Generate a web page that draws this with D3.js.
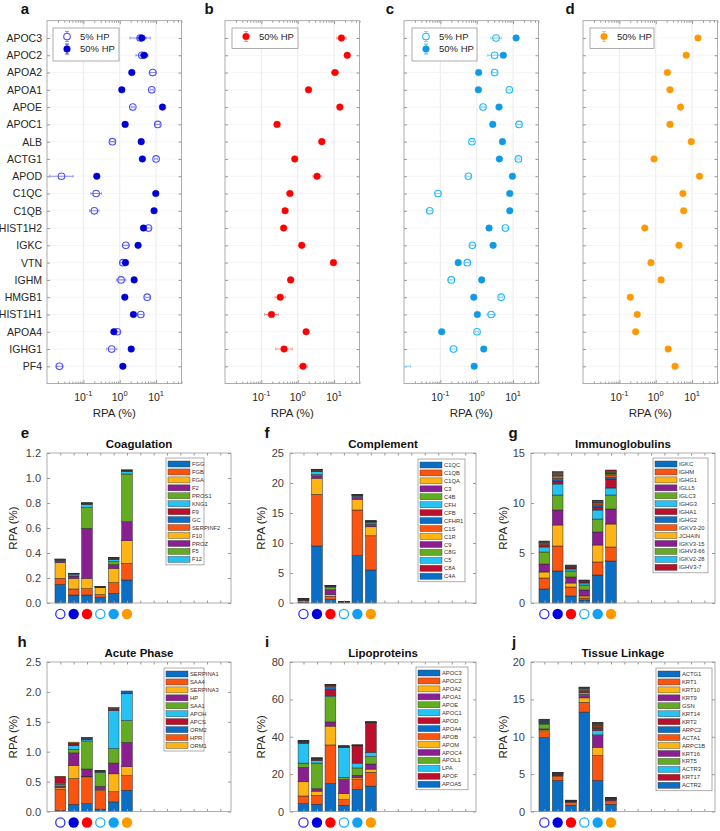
<!DOCTYPE html>
<html><head><meta charset="utf-8">
<script src="https://cdn.jsdelivr.net/npm/d3@7"></script>
<style>body{margin:0;background:#fff} svg{display:block;font-family:"Liberation Sans",Arial,sans-serif}</style>
</head><body><svg id="c" width="720" height="831"></svg>
<script>
// ---------------- DATA ----------------
const proteins = ["APOC3","APOC2","APOA2","APOA1","APOE","APOC1","ALB","ACTG1","APOD","C1QC","C1QB","HIST1H2","IGKC","VTN","IGHM","HMGB1","HIST1H1","APOA4","IGHG1","PF4"];
// RPA (%) values, error bars given as multiplicative spread factors
const a5  = [3.64,4.05,8.1,7.6,2.29,11.1,0.63,10,0.025,0.224,0.2,6.2,1.47,1.22,1.09,5.7,3.8,0.86,0.6,0.022];
const a5err = [1.9,1.45,1.25,1.1,1.1,1.15,1.15,1.1,2.1,1.4,1.35,1.15,1.25,1.2,1.35,1.15,1.2,1.15,1.4,1.25];
const a50 = [4.05,4.7,2.15,1.14,15,1.41,3.9,4.2,0.234,9.8,8.8,4.5,3.2,1.44,2.49,1.38,2.38,0.69,2.07,1.22];
const a50err = [1.3,1.25,1.08,1.08,1.08,1.08,1.08,1.08,1.08,1.08,1.08,1.1,1.08,1.1,1.08,1.08,1.08,1.08,1.08,1.1];
const b50 = [15.9,23,10.6,1.98,14.4,0.27,4.6,0.83,3.4,0.61,0.45,0.41,1.29,9.6,0.64,0.33,0.19,1.7,0.42,1.4];
const b50err = [1.35,1.15,1.25,1.2,1.15,1.2,1.2,1.15,1.3,1.2,1.15,1.15,1.1,1.15,1.2,1.4,1.55,1.1,1.7,1.3];
const c5  = [3.4,3.1,3.1,7.9,1.49,14.6,0.74,14,0.59,0.086,0.051,6.15,0.76,0.55,0.2,4.7,2.5,1.02,0.23,0.006];
const c5err = [1.4,1.55,1.15,1.1,1.15,1.15,1.1,1.1,1.15,1.2,1.15,1.15,1.15,1.2,1.25,1.1,1.3,1.1,1.25,2.5];
const c50 = [12.1,5.4,1.13,1.11,4.1,2.76,5.1,4.2,9.6,8.1,8.1,2.18,2.82,0.31,1.37,0.83,1.04,0.109,1.56,0.85];
const c50err = [1.08,1.08,1.08,1.08,1.08,1.08,1.08,1.08,1.08,1.08,1.08,1.08,1.08,1.15,1.08,1.08,1.08,1.08,1.08,1.08];
const d50 = [14.5,6.9,2.09,2.47,4.8,2.47,9.5,0.9,16,5.6,5.85,0.5,4.36,0.74,1.4,0.2,0.31,0.28,2.2,3.4];
const d50err = [1.05,1.05,1.05,1.05,1.05,1.05,1.05,1.05,1.05,1.05,1.05,1.05,1.05,1.05,1.05,1.05,1.05,1.05,1.05,1.05];
const xMajorTicks = [0.1,1,10];
const xTickExp = ["-1","0","1"];

const barGroups = ["5% HP (a)","50% HP (a)","50% HP (b)","5% HP (c)","50% HP (c)","50% HP (d)"];

const coagNames = ["FGG","FGB","FGA","F2","PROS1","KNG1","F9","GC","SERPINF2","F10","PROZ","F5","F12"];
const coagValues = [
 [0.149,0.048,0.126,0.010,0.007,0.003,0.002,0.002,0.001,0.001,0.001,0.001,0.001],
 [0.064,0.048,0.085,0.019,0.011,0.005,0.002,0.001,0.001,0.001,0.0005,0.0005,0.0005],
 [0.064,0.050,0.083,0.400,0.165,0.028,0.003,0.002,0.002,0.002,0.001,0.001,0.001],
 [0.045,0.022,0.055,0.003,0.002,0.001,0.001,0.001,0.0005,0.0005,0.0005,0.0005,0.0005],
 [0.077,0.086,0.114,0.029,0.025,0.016,0.005,0.003,0.003,0.002,0.001,0.001,0.001],
 [0.184,0.133,0.181,0.152,0.382,0.021,0.004,0.002,0.002,0.001,0.001,0.001,0.001]];

const complNames = ["C1QC","C1QB","C1QA","C3","C4B","CFH","CFB","CFHR1","C1S","C1R","C9","C8G","C5","C8A","C4A"];
const complValues = [
 [0.1,0.3,0.05,0.03,0.02,0.02,0.15,0.02,0.03,0.02,0.01,0.01,0.01,0.01,0.01],
 [9.5,8.6,2.7,0.4,0.2,0.5,0.1,0.1,0.05,0.05,0.03,0.02,0.02,0.02,0.01],
 [0.6,0.5,0.3,0.8,0.45,0.1,0.05,0.03,0.02,0.02,0.01,0.01,0.01,0.005,0.005],
 [0.06,0.05,0.03,0.02,0.01,0.01,0.01,0.01,0.01,0.01,0.005,0.005,0.005,0.005,0.005],
 [7.9,7.6,1.8,0.25,0.2,0.1,0.05,0.05,0.04,0.03,0.03,0.02,0.02,0.01,0.01],
 [5.5,5.7,1.5,0.4,0.25,0.15,0.05,0.04,0.03,0.02,0.02,0.01,0.01,0.01,0.01]];

const immunoNames = ["IGKC","IGHM","IGHG1","IGLL5","IGLC3","IGHG3","IGHA1","IGHG2","IGKV3-20","JCHAIN","IGKV3-15","IGHV3-66","IGKV2-28","IGHV3-7"];
const immunoValues = [
 [1.4,1.1,0.6,0.8,1.2,0.5,0.15,0.1,0.1,0.05,0.05,0.05,0.05,0.05],
 [3.2,2.5,2.1,1.5,1.5,1.1,0.3,0.25,0.2,0.1,0.1,0.1,0.1,0.1],
 [0.7,0.9,0.4,0.6,0.6,0.2,0.1,0.05,0.05,0.05,0.04,0.04,0.04,0.03],
 [0.3,0.2,0.2,0.6,0.5,0.2,0.1,0.05,0.04,0.03,0.02,0.02,0.02,0.02],
 [2.8,1.3,1.7,1.3,1.3,0.9,0.3,0.15,0.15,0.1,0.08,0.08,0.06,0.06],
 [4.2,1.4,2.3,1.5,1.4,0.7,0.9,0.15,0.25,0.1,0.1,0.1,0.1,0.1]];

const acuteNames = ["SERPINA1","SAA4","SERPINA3","HP","SAA1","APOH","APCS","ORM2","HPR","ORM1"];
const acuteValues = [
 [0.015,0.36,0.03,0.02,0.03,0.02,0.09,0.01,0.008,0.005],
 [0.12,0.43,0.22,0.21,0.06,0.06,0.03,0.01,0.01,0.01],
 [0.13,0.45,0.01,0.12,0.47,0.02,0.02,0.01,0.005,0.005],
 [0.04,0.31,0.02,0.05,0.23,0.01,0.01,0.005,0.005,0.005],
 [0.16,0.17,0.30,0.18,0.24,0.64,0.02,0.015,0.01,0.005],
 [0.355,0.245,0.15,0.405,0.365,0.45,0.01,0.025,0.005,0.005]];

const lipoNames = ["APOC3","APOC2","APOA2","APOA1","APOE","APOC1","APOD","APOA4","APOB","APOM","APOC4","APOL1","LPA","APOF","APOA5"];
const lipoValues = [
 [4.2,4.1,7.6,7.7,2.3,10.6,0.3,0.3,0.2,0.1,0.1,0.1,0.1,0.1,0.1],
 [3.9,4.7,2.3,1.3,13.7,1.4,0.3,0.5,0.2,0.1,0.1,0.05,0.05,0.05,0.05],
 [15,20.6,10.1,2.2,13.6,0.5,3.2,1.6,0.4,0.2,0.2,0.1,0.1,0.05,0.05],
 [3.3,3.0,3.2,7.6,1.2,16.0,0.2,0.2,0.1,0.1,0.05,0.05,0.05,0.05,0.05],
 [11.8,5.3,0.9,1.4,3.9,2.6,9.2,0.2,0.1,0.05,0.05,0.03,0.03,0.02,0.02],
 [13.6,7.4,1.7,2.7,4.0,2.3,15.4,0.4,0.2,0.1,0.05,0.05,0.03,0.02,0.02]];

const tissueNames = ["ACTG1","KRT1","KRT10","KRT9","GSN","KRT14","KRT2","ARPC2","ACTA1","ARPC1B","KRT16","KRT5","ACTR3","KRT17","ACTR2"];
const tissueValues = [
 [9.9,0.9,0.15,0.1,0.65,0.1,0.1,0.1,0.05,0.05,0.05,0.05,0.05,0.05,0.05],
 [4.15,0.6,0.1,0.05,0.05,0.05,0.05,0.05,0.03,0.03,0.02,0.02,0.02,0.02,0.01],
 [0.83,0.35,0.08,0.04,0.04,0.03,0.03,0.03,0.02,0.02,0.01,0.01,0.01,0.01,0.01],
 [13.3,1.3,0.6,0.3,0.2,0.2,0.15,0.15,0.1,0.1,0.05,0.05,0.05,0.05,0.05],
 [4.15,3.35,1.1,1.55,0.1,0.6,0.3,0.15,0.15,0.1,0.1,0.1,0.05,0.05,0.05],
 [0.97,0.33,0.15,0.1,0.05,0.05,0.05,0.03,0.03,0.03,0.02,0.02,0.01,0.01,0.01]];

// ---------------- STYLE ----------------
const stackColors = ["#0a6fc4","#fa5510","#fdb414","#8a208f","#63ac22","#25c3f3","#bb0f2c"];
const txt = "#262626", boxC = "#9a9a9a";
const svg = d3.select("#c");

// ---------------- TOP PANELS ----------------
const topLefts = [47,225,404,583], topW = 134.5, topY0 = 20.7, topY1 = 383.6;
const rows = d3.range(1, proteins.length+1);
const minorTicks = [];
[0.01,0.1,1,10].forEach(d => { for (let k=2;k<=9;k++){ const v=d*k; if (v<=50) minorTicks.push(v);} });

function topPanel(idx, letter, series, legend) {
  const L = topLefts[idx];
  const x = d3.scaleLog().domain([0.01,50]).range([L, L+topW]);
  const y = d3.scaleLinear().domain([0,21]).range([topY0, topY1]);
  const g = svg.append("g");
  const clipId = "clip"+idx;
  svg.append("clipPath").attr("id", clipId).append("rect")
    .attr("x", L).attr("y", topY0).attr("width", topW).attr("height", topY1-topY0);
  // grid
  g.append("g").selectAll("line").data(xMajorTicks).join("line")
    .attr("x1", d=>x(d)).attr("x2", d=>x(d)).attr("y1", topY0).attr("y2", topY1)
    .attr("stroke", "#e6e6e6").attr("stroke-width", 0.8);
  g.append("g").selectAll("line").data(rows).join("line")
    .attr("x1", L).attr("x2", L+topW).attr("y1", d=>y(d)).attr("y2", d=>y(d))
    .attr("stroke", "#f2f2f2").attr("stroke-width", 0.8);
  // axes
  const ax = (gen, tx, ty) => g.append("g").attr("transform", `translate(${tx},${ty})`).call(gen)
      .call(s => { s.select(".domain").remove(); s.selectAll(".tick line").attr("stroke", boxC); });
  ax(d3.axisBottom(x).tickValues(xMajorTicks).tickSize(-3.5).tickFormat(""), 0, topY1);
  ax(d3.axisBottom(x).tickValues(minorTicks).tickSize(-2).tickFormat(""), 0, topY1);
  ax(d3.axisTop(x).tickValues(xMajorTicks).tickSize(-3.5).tickFormat(""), 0, topY0);
  ax(d3.axisTop(x).tickValues(minorTicks).tickSize(-2).tickFormat(""), 0, topY0);
  ax(d3.axisRight(y).tickValues(rows).tickSize(-3).tickFormat(""), L+topW, 0);
  const yl = ax(d3.axisLeft(y).tickValues(rows).tickSize(-3).tickPadding(5)
      .tickFormat(d => idx===0 ? proteins[d-1] : ""), L, 0);
  yl.selectAll("text").attr("fill", txt).attr("font-size", 10.5).attr("font-family", "Liberation Sans, Arial");
  g.append("rect").attr("x", L).attr("y", topY0).attr("width", topW).attr("height", topY1-topY0)
    .attr("fill", "none").attr("stroke", boxC).attr("stroke-width", 0.8);
  // tick labels 10^n
  xMajorTicks.forEach((t,i) => {
    const tt = g.append("text").attr("x", x(t)).attr("y", 401).attr("text-anchor", "middle")
      .attr("fill", txt).attr("font-size", 10.5);
    tt.append("tspan").text("10");
    tt.append("tspan").attr("dy", -5).attr("font-size", 7.5).text(xTickExp[i]);
  });
  g.append("text").attr("x", L+topW/2).attr("y", 417).attr("text-anchor", "middle")
    .attr("fill", txt).attr("font-size", 11.5).text("RPA (%)");
  // series
  const pg = g.append("g").attr("clip-path", `url(#${clipId})`);
  series.forEach(s => {
    s.vals.forEach((v,i) => {
      const yy = y(i+1), f = s.err[i];
      pg.append("line").attr("x1", x(v/f)).attr("x2", x(v*f)).attr("y1", yy).attr("y2", yy)
        .attr("stroke", s.errColor).attr("stroke-width", 1.1);
      [v/f, v*f].forEach(e => pg.append("line").attr("x1", x(e)).attr("x2", x(e))
        .attr("y1", yy-1.5).attr("y2", yy+1.5).attr("stroke", s.errColor).attr("stroke-width", 0.8));
    });
  });
  series.forEach(s => {
    s.vals.forEach((v,i) => {
      pg.append("circle").attr("cx", x(v)).attr("cy", y(i+1)).attr("r", 3.3)
        .attr("fill", s.open ? "none" : s.color).attr("stroke", s.color).attr("stroke-width", s.open ? 1.1 : 0.5);
    });
  });
  // legend
  const lg = g.append("g");
  lg.append("rect").attr("x", legend.x).attr("y", 28).attr("width", legend.w)
    .attr("height", 6 + series.length*12.5 + 2).attr("fill", "#fff").attr("stroke", "#9a9a9a").attr("stroke-width", 0.8);
  series.forEach((s,i) => {
    const cy = 36.5 + i*12.5, mx = legend.x + 14;
    lg.append("line").attr("x1", mx).attr("x2", mx).attr("y1", cy-5).attr("y2", cy+5).attr("stroke", s.errColor);
    [cy-5, cy+5].forEach(e => lg.append("line").attr("x1", mx-2).attr("x2", mx+2).attr("y1", e).attr("y2", e).attr("stroke", s.errColor));
    lg.append("circle").attr("cx", mx).attr("cy", cy).attr("r", 3.3)
      .attr("fill", s.open ? "#fff" : s.color).attr("stroke", s.color).attr("stroke-width", s.open ? 1.1 : 0.5);
    lg.append("text").attr("x", legend.x + 27).attr("y", cy).attr("dy", "0.35em")
      .attr("fill", txt).attr("font-size", 9.5).text(s.label);
  });
  svg.append("text").attr("x", legend.letterX).attr("y", 14).attr("text-anchor", "middle")
    .attr("font-weight", "bold").attr("font-size", 15).attr("fill", "#111").text(letter);
}

topPanel(0, "a", [
  {vals:a5, err:a5err, color:"#5050f5", errColor:"#8a8aff", open:true, label:"5% HP"},
  {vals:a50, err:a50err, color:"#0000d4", errColor:"#4848f0", open:false, label:"50% HP"}], {x:53, w:66, letterX:25});
topPanel(1, "b", [
  {vals:b50, err:b50err, color:"#ff0000", errColor:"#ff8a8a", open:false, label:"50% HP"}], {x:232, w:66, letterX:209});
topPanel(2, "c", [
  {vals:c5, err:c5err, color:"#25b8f5", errColor:"#7fd2fa", open:true, label:"5% HP"},
  {vals:c50, err:c50err, color:"#0f9ae6", errColor:"#55bdf0", open:false, label:"50% HP"}], {x:412, w:65, letterX:390});
topPanel(3, "d", [
  {vals:d50, err:d50err, color:"#ff9900", errColor:"#ffc266", open:false, label:"50% HP"}], {x:590, w:64, letterX:570});

// ---------------- BAR PANELS ----------------
const markerStyles = [
  {open:true, color:"#3030ff"}, {open:false, color:"#0000dd"}, {open:false, color:"#ff0000"},
  {open:true, color:"#22aaff"}, {open:false, color:"#14a0f0"}, {open:false, color:"#ff9900"}];

function barPanel(o) {
  const {L, R, T, B, yMax, yTicks, title, letter, letterX, ylabX, names, values, leg} = o;
  const x = d3.scaleLinear().domain([0, 13.8]).range([L, R]);
  const y = d3.scaleLinear().domain([0, yMax]).range([B, T]);
  const g = svg.append("g");
  const table = values.map((arr, i) => { const r = {bar: i+1}; names.forEach((n,k) => r[n] = arr[k]); return r; });
  const series = d3.stack().keys(names)(table);
  const bw = x(0.8) - x(0);
  g.append("g").selectAll("g").data(series).join("g")
    .attr("fill", (d,k) => stackColors[k % stackColors.length])
    .selectAll("rect").data(d => d).join("rect")
    .attr("x", d => x(d.data.bar) - bw/2).attr("width", bw)
    .attr("y", d => y(d[1])).attr("height", d => Math.max(0, y(d[0]) - y(d[1])))
    .attr("stroke", "#2a2a2a").attr("stroke-width", 0.5);
  const ax = (gen, tx, ty) => g.append("g").attr("transform", `translate(${tx},${ty})`).call(gen)
      .call(s => { s.select(".domain").remove(); s.selectAll(".tick line").attr("stroke", boxC); });
  const yl = ax(d3.axisLeft(y).tickValues(yTicks).tickSize(-3).tickPadding(6), L, 0);
  yl.selectAll("text").attr("fill", "#404040").attr("font-size", 11).attr("font-family", "Liberation Sans, Arial");
  ax(d3.axisRight(y).tickValues(yTicks).tickSize(-3).tickFormat(""), R, 0);
  const xt = d3.range(1, 14);
  ax(d3.axisBottom(x).tickValues(xt).tickSize(-2.5).tickFormat(""), 0, B);
  ax(d3.axisTop(x).tickValues(xt).tickSize(-2.5).tickFormat(""), 0, T);
  g.append("rect").attr("x", L).attr("y", T).attr("width", R-L).attr("height", B-T)
    .attr("fill", "none").attr("stroke", boxC).attr("stroke-width", 0.8);
  // markers under bars
  markerStyles.forEach((m, i) => {
    g.append("circle").attr("cx", x(i+1)).attr("cy", B+11).attr("r", m.open ? 4.6 : 5.2)
      .attr("fill", m.open ? "#fff" : m.color).attr("stroke", m.color).attr("stroke-width", m.open ? 1.3 : 0);
  });
  // labels
  g.append("text").attr("x", (L+R)/2).attr("y", T-5).attr("text-anchor", "middle")
    .attr("font-weight", "bold").attr("font-size", 11.5).attr("fill", "#111").text(title);
  g.append("text").attr("x", letterX).attr("y", T-15).attr("text-anchor", "middle")
    .attr("font-weight", "bold").attr("font-size", 15).attr("fill", "#111").text(letter);
  g.append("text").attr("transform", `translate(${ylabX},${(T+B)/2}) rotate(-90)`)
    .attr("text-anchor", "middle").attr("dy", "0.35em").attr("fill", txt).attr("font-size", 11.5).text("RPA (%)");
  // legend
  const sp = 7.95;
  const lg = g.append("g");
  lg.append("rect").attr("x", leg.x).attr("y", leg.y).attr("width", leg.w).attr("height", names.length*sp + 3.5)
    .attr("fill", "#fff").attr("stroke", "#8a8a8a").attr("stroke-width", 0.7);
  names.forEach((n, k) => {
    const cy = leg.y + 6 + k*sp;
    lg.append("rect").attr("x", leg.x + 2).attr("y", cy - 3).attr("width", 22).attr("height", 6)
      .attr("fill", stackColors[k % stackColors.length]).attr("stroke", "#333").attr("stroke-width", 0.4);
    lg.append("text").attr("x", leg.x + 26).attr("y", cy).attr("dy", "0.35em")
      .attr("font-size", 5.8).attr("fill", "#333").text(n);
  });
}

barPanel({L:47, R:231, T:453, B:603, yMax:1.2, yTicks:[0,0.2,0.4,0.6,0.8,1,1.2], title:"Coagulation",
  letter:"e", letterX:25, ylabX:13, names:coagNames, values:coagValues, leg:{x:166, y:458, w:38}});
barPanel({L:290, R:476, T:453, B:603, yMax:25, yTicks:[0,5,10,15,20,25], title:"Complement",
  letter:"f", letterX:267, ylabX:261, names:complNames, values:complValues, leg:{x:418, y:459, w:47}});
barPanel({L:531, R:715, T:453, B:603, yMax:15, yTicks:[0,5,10,15], title:"Immunoglobulins",
  letter:"g", letterX:513, ylabX:503, names:immunoNames, values:immunoValues, leg:{x:653, y:458, w:55}});
barPanel({L:47, R:231, T:662, B:811.5, yMax:2.5, yTicks:[0,0.5,1,1.5,2,2.5], title:"Acute Phase",
  letter:"h", letterX:22, ylabX:13, names:acuteNames, values:acuteValues, leg:{x:164, y:668, w:40}});
barPanel({L:290, R:476, T:662, B:811.5, yMax:80, yTicks:[0,20,40,60,80], title:"Lipoproteins",
  letter:"i", letterX:267, ylabX:261, names:lipoNames, values:lipoValues, leg:{x:416, y:667, w:52}});
barPanel({L:531, R:715, T:662, B:811.5, yMax:20, yTicks:[0,5,10,15,20], title:"Tissue Linkage",
  letter:"j", letterX:514, ylabX:503, names:tissueNames, values:tissueValues, leg:{x:656, y:668, w:56}});
</script></body></html>
